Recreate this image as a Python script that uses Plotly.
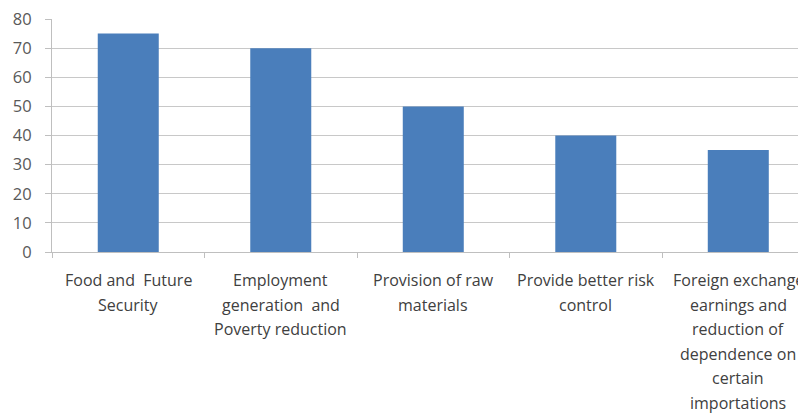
import plotly.graph_objects as go

categories = [
    "Food and Future Security",
    "Employment generation and Poverty reduction",
    "Provision of raw materials",
    "Provide better risk control",
    "Foreign exchange earnings and reduction of dependence on certain importations",
]
label_lines = [
    ["Food and  Future", "Security"],
    ["Employment", "generation  and", "Poverty reduction"],
    ["Provision of raw", "materials"],
    ["Provide better risk", "control"],
    ["Foreign exchange", "earnings and", "reduction of", "dependence on", "certain", "importations"],
]
values = [75, 70, 50, 40, 35]
y_ticks = [0, 10, 20, 30, 40, 50, 60, 70, 80]

FONT = "Open Sans"
fig = go.Figure(go.Bar(x=categories, y=values, marker=dict(color="#4a7ebb", line=dict(width=0)), width=0.4))

annotations = []
for cat, lines in zip(categories, label_lines):
    for i, ln in enumerate(lines):
        annotations.append(dict(
            x=cat, y=0, xref="x", yref="y", text=ln, showarrow=False,
            yanchor="middle", xanchor="center", yshift=-(28 + 24.5 * i),
            font=dict(family=FONT, size=16, color="#404040"),
        ))

# the page body has an 8px margin, so the figure is sized to fit the remaining window
fig.update_layout(
    width=798, height=405,
    margin=dict(l=44, r=0, t=11, b=161),
    plot_bgcolor="white", paper_bgcolor="white",
    showlegend=False,
    annotations=annotations,
    xaxis=dict(
        type="category", range=[-0.5, 4.444], showticklabels=False,
        tickson="boundaries", ticks="outside", ticklen=5, tickcolor="#bfbfbf",
        showline=True, linecolor="#bfbfbf", linewidth=1, showgrid=False,
    ),
    yaxis=dict(
        range=[0, 80], tickvals=y_ticks, ticks="outside", ticklen=6, tickcolor="#bfbfbf",
        showline=True, linecolor="#bfbfbf", linewidth=1,
        showgrid=True, gridcolor="#c8c8c8", gridwidth=1, zeroline=False,
        tickfont=dict(family=FONT, size=16.5, color="#595959"),
        ticklabelstandoff=10, ticklabeloverflow="allow",
    ),
)
fig.write_html("out.html")
